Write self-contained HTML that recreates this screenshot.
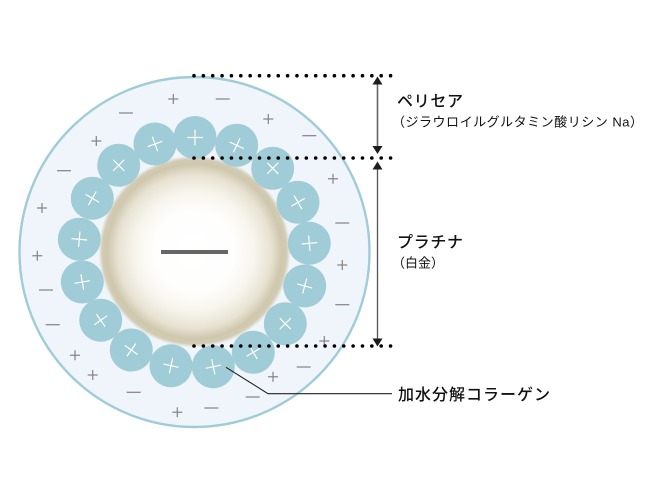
<!DOCTYPE html>
<html lang="ja"><head><meta charset="utf-8"><style>
html,body{margin:0;padding:0;background:#fff}
svg{display:block}
text{font-family:"Liberation Sans","Noto Sans CJK JP",sans-serif;fill:#111}
.h{font-size:16px;font-weight:500}
.s{font-size:13px}
.m{stroke:#868686;stroke-width:1.25;fill:none}
.c{stroke:#fff;stroke-width:1.8;fill:none}
</style></head><body>
<svg width="650" height="482" viewBox="0 0 650 482" xmlns="http://www.w3.org/2000/svg">
<defs>
<radialGradient id="g" cx="194.5" cy="251.5" r="96" gradientUnits="userSpaceOnUse">
<stop offset="0" stop-color="#fff"/>
<stop offset=".42" stop-color="#fefefd"/>
<stop offset=".62" stop-color="#f7f5ee"/>
<stop offset=".8" stop-color="#e7e2d2"/>
<stop offset=".91" stop-color="#cfc7ad"/>
<stop offset=".96" stop-color="#d2cbb4"/>
<stop offset="1" stop-color="#f0f5fb"/>
</radialGradient>
<g id="p"><path class="m" d="M-5 0H5M0-5V5"/></g>
<g id="n"><path class="m" d="M-7 0H7"/></g>
<g id="x"><path class="c" d="M-12 0H12M0-12V12" transform="scale(.65)"/></g>
</defs>
<circle cx="194.5" cy="252" r="175" fill="#f0f5fb" stroke="#a0ccd8" stroke-width="2.4"/>
<circle cx="194.5" cy="251.5" r="96" fill="url(#g)"/>
<g fill="#a0ccd7">
<circle cx="195" cy="137.5" r="21.5"/><circle cx="155" cy="144" r="21.5"/><circle cx="118.7" cy="165.3" r="21.5"/><circle cx="92.3" cy="198.3" r="21.5"/><circle cx="79.3" cy="239.3" r="21.5"/><circle cx="82.3" cy="282" r="21.5"/><circle cx="100.7" cy="320.3" r="21.5"/><circle cx="131.3" cy="350" r="21.5"/><circle cx="171" cy="365.7" r="21.5"/><circle cx="213.3" cy="366.7" r="21.5"/><circle cx="253.3" cy="352.3" r="21.5"/><circle cx="285.3" cy="323.7" r="21.5"/><circle cx="304.7" cy="286" r="21.5"/><circle cx="309.3" cy="243.3" r="21.5"/><circle cx="298" cy="202.3" r="21.5"/><circle cx="272.7" cy="168.3" r="21.5"/><circle cx="236.7" cy="145.3" r="21.5"/>
</g>
<use href="#x" transform="translate(195 137.5)"/>
<use href="#x" transform="translate(155 144) rotate(-20)"/>
<use href="#x" transform="translate(118.7 165.3) rotate(45)"/>
<use href="#x" transform="translate(92.3 198.3) rotate(-60)"/>
<use href="#x" transform="translate(79.3 239.3) rotate(5)"/>
<use href="#x" transform="translate(82.3 282) rotate(-10)"/>
<use href="#x" transform="translate(100.7 320.3) rotate(-35)"/>
<use href="#x" transform="translate(131.3 350) rotate(35)"/>
<use href="#x" transform="translate(171 365.7) rotate(12)"/>
<use href="#x" transform="translate(213.3 366.7) rotate(-12)"/>
<use href="#x" transform="translate(253.3 352.3) rotate(-30)"/>
<use href="#x" transform="translate(285.3 323.7) rotate(45)"/>
<use href="#x" transform="translate(304.7 286) rotate(15)"/>
<use href="#x" transform="translate(309.3 243.3) rotate(-5)"/>
<use href="#x" transform="translate(298 202.3) rotate(-30)"/>
<use href="#x" transform="translate(272.7 168.3) rotate(45)"/>
<use href="#x" transform="translate(236.7 145.3) rotate(25)"/>
<rect x="161" y="250" width="67" height="4" fill="#666"/>
<use href="#p" x="173.3" y="99"/><use href="#p" x="96.3" y="141"/><use href="#p" x="42" y="208"/><use href="#p" x="268.3" y="119"/><use href="#p" x="333" y="178.7"/><use href="#p" x="37.3" y="255.7"/><use href="#p" x="75" y="355.3"/><use href="#p" x="92.7" y="375"/><use href="#p" x="177.3" y="412.3"/><use href="#p" x="342.3" y="265"/><use href="#p" x="324.3" y="341"/><use href="#p" x="273" y="376.7"/>
<use href="#n" x="126" y="113"/><use href="#n" x="64" y="170.7"/><use href="#n" x="222.7" y="99"/><use href="#n" x="309.3" y="135.7"/><use href="#n" x="342.3" y="223"/><use href="#n" x="46" y="290"/><use href="#n" x="52.7" y="324.7"/><use href="#n" x="133.7" y="392.3"/><use href="#n" x="342.3" y="304.7"/><use href="#n" x="303.7" y="367"/><use href="#n" x="252.7" y="397"/><use href="#n" x="211.3" y="408"/>
<g fill="none" stroke="#000" stroke-width="3.6" stroke-linecap="round" stroke-dasharray="0 9.36">
<path d="M194 75.7H394"/><path d="M194 158H394"/><path d="M194 346H394"/>
</g>
<path d="M377.5 80V150" stroke="#666" stroke-width="1.6"/>
<path d="M377.5 166V342" stroke="#555" stroke-width="1.3"/>
<path d="M377.5 76.5l-5 8h10zM377.5 154l-5-8h10zM377.5 161.5l-5 8h10zM377.5 346.5l-5-8h10z" fill="#1c1c1c"/>
<path d="M226 367.3L268 393.7H392" fill="none" stroke="#222" stroke-width="1.1"/>
<text class="h" x="397" y="106.5" textLength="66" lengthAdjust="spacing">ペリセア</text>
<text class="s" x="392" y="126.7" textLength="251" lengthAdjust="spacing">（ジラウロイルグルタミン酸リシン Na）</text>
<text class="h" x="397" y="247.7" textLength="66" lengthAdjust="spacing">プラチナ</text>
<text class="s" x="392" y="267.7">（白金）</text>
<text class="h" x="398" y="400" textLength="152" lengthAdjust="spacing">加水分解コラーゲン</text>
</svg>
</body></html>
